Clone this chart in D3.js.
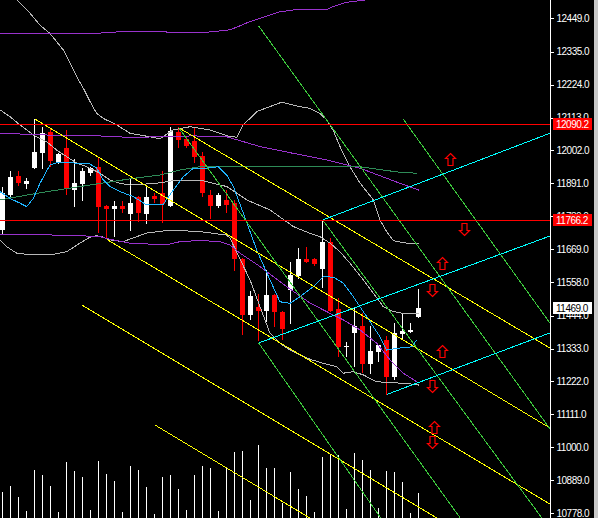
<!DOCTYPE html>
<html><head><meta charset="utf-8">
<script src="https://cdn.jsdelivr.net/npm/d3@7"></script>
<style>html,body{margin:0;padding:0;background:#000;overflow:hidden}</style>
</head><body>
<svg id="c" width="598" height="518"></svg>
<script>
// ---------- data ----------
const opens  = [11733.4,11851.5,11915.7,11889.7,11943.7,11994.3,12063.2,11963.9,12011.2,11868.4,11887.6,11926.8,11947.1,11814.4,11803.3,11814.4,11787.4,11845.8,11787.4,11848.1,11857.3,11812.7,12062.5,12040.6,12033.8,11983.2,11851.5,11815.4,11834.6,11823.5,11634.5,11446.4,11473.4,11459.9,11513.9,11457.6,11530.8,11579.1,11635.5,11634.5,11601.7,11693.9,11466.7,11337.4,11386.7,11409.3,11281.0,11321.5,11362.0,11238.1,11382.3,11389.0,11440.7];
const highs  = [11879.5,11933.5,11932.5,11907.9,12108.1,12082.1,12076.7,11992.3,12070.9,11972.0,11941.7,11947.1,11975.4,11817.8,11831.3,11831.3,11907.9,11848.1,11877.5,11857.3,11932.5,12080.1,12080.1,12048.3,12076.7,11997.7,11868.4,11857.3,11868.4,11834.6,11638.8,11525.8,11517.3,11598.3,11517.3,11460.9,11626.4,11673.6,11677.0,11639.9,11767.1,11705.3,11502.8,11356.3,11474.4,11452.2,11409.3,11345.1,11375.5,11418.4,11452.2,11418.4,11534.2];
const lows   = [11719.9,11841.4,11882.9,11871.8,11939.3,11938.3,11947.1,11956.2,11851.5,11810.0,11832.3,11916.7,11722.2,11705.3,11710.7,11789.7,11731.0,11759.4,11752.6,11823.5,11756.0,11810.0,12010.2,12009.2,11958.5,11843.8,11769.5,11806.6,11791.8,11596.6,11377.2,11429.5,11358.6,11422.8,11406.9,11361.0,11416.0,11567.9,11621.0,11611.8,11536.5,11456.6,11305.7,11305.7,11271.9,11251.6,11247.3,11288.8,11176.4,11227.0,11362.0,11386.7,11435.3];
const closes = [11859.3,11913.3,11891.0,11898.8,11995.7,12059.8,11967.3,11989.9,11870.8,11893.0,11932.5,11941.7,11812.0,11803.3,11814.4,11804.3,11823.5,11789.7,11843.8,11837.0,11821.1,12068.6,12037.2,12017.9,11980.8,11857.3,11815.4,11851.5,11817.8,11634.5,11446.4,11510.6,11460.9,11513.9,11456.6,11400.2,11581.5,11635.5,11624.3,11618.6,11693.9,11459.9,11336.7,11341.8,11409.3,11281.0,11324.9,11345.1,11238.1,11384.6,11392.4,11395.8,11469.0];
const volumes = [2630,3200,2100,730,4800,4330,3230,600,5600,4700,4100,800,5700,4430,3700,630,5200,4800,3100,400,4100,4300,2900,800,4300,5200,5000,730,5030,6600,6700,1800,7300,5000,5000,1530,4600,2900,2200,600,6100,6400,6300,900,6500,5800,4800,1000,4700,4600,3600,500,2500];

// indicator lines: [bar index, price]
const bbUpper = [[0,12557],[1.75,12510],[3.41,12465],[4.66,12425],[5.91,12397],[6.75,12369],[7.58,12341],[8.41,12296],[9.25,12251],[10.08,12212],[10.91,12167],[11.75,12127],[12.58,12110],[14.25,12088],[15.91,12060],[17.79,12051],[19.66,12041],[21.29,12071],[23.41,12082],[25.91,12071],[28.41,12048],[29.29,12047],[30.04,12088],[30.91,12110],[31.75,12133],[33.41,12150],[34.88,12165],[36.75,12152],[38.41,12144],[39.66,12127],[40.5,12105],[41.29,12071],[42.16,12015],[43.41,11947],[44.66,11892],[46.33,11835],[47.16,11767],[48,11728],[48.83,11697],[50.5,11689],[52,11689]];
const bbMid = [[-0.34,12139],[0.91,12116],[2.16,12088],[3.83,12054],[5.5,12031],[6.75,12003],[8,11981],[9.25,11959],[10.5,11947],[12.16,11925],[13.41,11902],[14.66,11891],[15.91,11885],[19.25,11891],[21.75,11902],[24.66,11902],[28,11880],[30.5,11835],[33.41,11801],[36.33,11745],[38.41,11722],[39.66,11711],[40.91,11689],[42.16,11660],[43.41,11621],[45.08,11565],[46.33,11520],[47.58,11474],[48.83,11458],[50.08,11452],[52,11450]];
const bbLower = [[-0.34,11700],[0.5,11677],[1.75,11655],[3.83,11649],[5.91,11649],[8,11660],[9.66,11689],[10.91,11709],[11.75,11714],[12.58,11709],[13.41,11700],[15.04,11694],[18,11723],[20.91,11733],[24.66,11728],[28,11716],[28.41,11706],[30.91,11565],[33.41,11385],[34.66,11351],[35.91,11328],[38.41,11297],[40.08,11283],[41.75,11272],[42.58,11250],[43.83,11255],[45.08,11244],[46.75,11221],[48.83,11218],[50.91,11214],[52,11210]];
const bb2Upper = [[-0.34,12397],[12.16,12398],[15.91,12405],[20.29,12405],[20.5,12401],[25.5,12401],[28.41,12409],[29.25,12418],[30.91,12437],[32.54,12451],[34.66,12470],[36.29,12476],[40.5,12478],[41.29,12487],[42.79,12501],[45.29,12510],[52,12544]];
const bb2Mid = [[-0.34,12060],[5.5,12054],[11.29,12052],[15.91,12046],[19.66,12048],[23.79,12051],[28,12048],[32.16,12015],[36.33,11992],[40.5,11970],[44.66,11942],[49.66,11891],[52,11868]];
const bb2Lower = [[-0.34,11719],[5.5,11717],[10.5,11713],[12.16,11711],[13.41,11702],[15.91,11689],[20.5,11683],[22.16,11694],[24.66,11698],[27.16,11694],[28.41,11683],[29.66,11655],[32.16,11610],[35.5,11542],[38.41,11487],[40.91,11452],[42.58,11430],[44.66,11396],[46.75,11351],[48.41,11295],[50.08,11250],[51.75,11221],[52,11218]];
const maSlow = [[-0.34,11835],[4.66,11859],[9.66,11880],[15.91,11906],[19.66,11919],[22.16,11936],[24.66,11947],[28,11947],[36.29,11947],[44.66,11947],[49.66,11928],[51.75,11925]];
const maFast = [[-0.34,11863],[0.91,11840],[2.16,11824],[3,11812],[3.83,11840],[4.66,11891],[5.91,11953],[6.95,11962],[9.25,11959],[10.7,11959],[11.75,11942],[12.58,11902],[13.41,11880],[14.66,11863],[16.33,11846],[18,11818],[20.08,11821],[21.33,11868],[22.58,11913],[23.83,11942],[25.5,11942],[26.95,11947],[28,11919],[28.83,11880],[30.08,11790],[31.75,11666],[33.41,11565],[34.66,11491],[35.91,11486],[37.16,11508],[38.83,11542],[40.08,11576],[41.33,11574],[42.58,11554],[43.83,11508],[44.66,11474],[45.5,11441],[46.33,11407],[47.16,11373],[48,11328],[49.25,11334],[51.13,11339],[51.75,11362]];

// trend objects: [[bar, price],[bar, price]]
const yellowLines = [[[4,12108.1],[68.41,11065]],[[22,12078.7],[68.41,11335]],[[13,11702],[68.41,10808]],[[9.91,11480],[68.41,10532]],[[19.04,11075],[68.41,10275]]];
const greenLines  = [[[32,12422],[68.41,11062]],[[50,12110],[68.41,11419]],[[40,11767.1],[68.41,10724]],[[22,12078.7],[68.41,10341]],[[32,11352],[68.41,9942]]];
const cyanLines   = [[[40,11767.1],[68.41,12060]],[[32,11352],[68.41,11713]],[[48,11178],[68.41,11386]]];
const levelLines  = [12090.2, 11766.2];
const lastPrice   = 11469.0;

const arrowBars   = [55.91,57.7,54.9,53.66,54.9,53.66,53.95,53.66];
const arrowPrices = [11972,11736,11621,11532,11326,11208,11069,11016];
const arrowDirs   = ["up","down","up","down","up","down","up","down"];

const tickLabels = ["12449.0","12335.0","12224.0","12113.0","12002.0","11891.0","11780.0","11669.0","11558.0","11444.0","11333.0","11222.0","11111.0","11000.0","10889.0","10778.0"];

// ---------- drawing ----------
const W = 598, H = 518, plotW = 550;
const svg = d3.select("#c");
svg.append("rect").attr("width", W).attr("height", H).attr("fill", "#000");

const x = d3.scaleLinear().domain([0, 52]).range([2.7, 418.7]);
const y = d3.scaleLinear().domain([10778, 12449]).range([513, 18]);
const vy = d3.scaleLinear().domain([0, 10000]).range([H, H - 100]);

svg.append("defs").append("clipPath").attr("id", "plot")
  .append("rect").attr("x", 0).attr("y", 0).attr("width", plotW).attr("height", H);
const g = svg.append("g").attr("clip-path", "url(#plot)");

const col = i => Math.floor(x(i));

// volumes
g.selectAll("line.vol").data(volumes).join("line").attr("class", "vol")
  .attr("x1", (d, i) => col(i) + 0.5).attr("x2", (d, i) => col(i) + 0.5)
  .attr("y1", H).attr("y2", d => Math.round(vy(d)))
  .attr("stroke", "#fff").attr("stroke-width", 1).attr("shape-rendering", "crispEdges");

// candles
const idx = d3.range(opens.length);
const cg = g.append("g").attr("shape-rendering", "crispEdges");
idx.forEach(i => {
  const up = closes[i] >= opens[i];
  const color = up ? "#fff" : "#ff0000";
  const c = col(i);
  cg.append("line").attr("x1", c + 0.5).attr("x2", c + 0.5)
    .attr("y1", Math.round(y(highs[i]))).attr("y2", Math.round(y(lows[i])))
    .attr("stroke", color).attr("stroke-width", 1);
  const top = Math.round(y(Math.max(opens[i], closes[i])));
  const bot = Math.round(y(Math.min(opens[i], closes[i])));
  cg.append("rect").attr("x", c - 2).attr("width", 5)
    .attr("y", top).attr("height", Math.max(1, bot - top))
    .attr("fill", color);
});

const line = d3.line().x(d => x(d[0])).y(d => y(d[1]));
function drawPath(data, color) {
  g.append("path").attr("d", line(data)).attr("fill", "none")
    .attr("stroke", color).attr("stroke-width", 1).attr("shape-rendering", "crispEdges");
}
[bbUpper, bbMid, bbLower].forEach(d => drawPath(d, "#b8b8b8"));
[bb2Upper, bb2Mid, bb2Lower].forEach(d => drawPath(d, "#9932cc"));
drawPath(maSlow, "#2e8b57");
drawPath(maFast, "#1eb4ff");

yellowLines.forEach(d => drawPath(d, "#ffff00"));
greenLines.forEach(d => drawPath(d, "#3cc83c"));
cyanLines.forEach(d => drawPath(d, "#00ffff"));

levelLines.forEach(v => {
  g.append("line").attr("x1", 0).attr("x2", plotW)
    .attr("y1", Math.round(y(v)) + 0.5).attr("y2", Math.round(y(v)) + 0.5)
    .attr("stroke", "#ff0000").attr("stroke-width", 1).attr("shape-rendering", "crispEdges");
});

// arrows
const upArrow = "M0,-6 L5,-1 L2.5,-1 L2.5,6 L-2.5,6 L-2.5,-1 L-5,-1 Z";
arrowBars.forEach((b, i) => {
  const ax = Math.round(x(b)) + 0.5, ay = Math.round(y(arrowPrices[i])) + 0.5;
  g.append("path").attr("d", upArrow)
    .attr("transform", `translate(${ax},${ay})` + (arrowDirs[i] === "down" ? " scale(1,-1)" : ""))
    .attr("fill", "none").attr("stroke", "#ff0000").attr("stroke-width", 1.2);
});

// axis
svg.append("line").attr("x1", plotW + 0.5).attr("x2", plotW + 0.5).attr("y1", 0).attr("y2", H)
  .attr("stroke", "#fff").attr("shape-rendering", "crispEdges");
const axis = d3.axisRight(y).tickValues(tickLabels.map(Number))
  .tickSize(3).tickPadding(3).tickFormat((d, i) => tickLabels[i]);
const ag = svg.append("g").attr("transform", `translate(${plotW + 0.5},0)`).call(axis);
ag.select(".domain").remove();
ag.selectAll(".tick line").attr("stroke", "#fff").attr("shape-rendering", "crispEdges");
ag.selectAll(".tick text").attr("fill", "#fff")
  .style("font-family", "'Liberation Sans', Arial, sans-serif").style("font-size", "10px")
  .style("letter-spacing", "-0.5px");

// price boxes
function priceBox(v, bg, fg) {
  const yy = Math.round(y(v));
  svg.append("rect").attr("x", 552.5).attr("y", yy - 6).attr("width", 39.5).attr("height", 12)
    .attr("fill", bg).attr("shape-rendering", "crispEdges");
  svg.append("text").attr("x", 556).attr("y", yy).attr("dy", "0.35em").text(v.toFixed(1))
    .attr("fill", fg).style("font-family", "'Liberation Sans', Arial, sans-serif")
    .style("font-size", "10px").style("letter-spacing", "-0.5px");
}
levelLines.forEach(v => priceBox(v, "#ff0000", "#fff"));
priceBox(lastPrice, "#fff", "#000");

// right window edge
svg.append("rect").attr("x", 594).attr("y", 0).attr("width", 4).attr("height", H).attr("fill", "#c8c8c8");
</script>
</body></html>
